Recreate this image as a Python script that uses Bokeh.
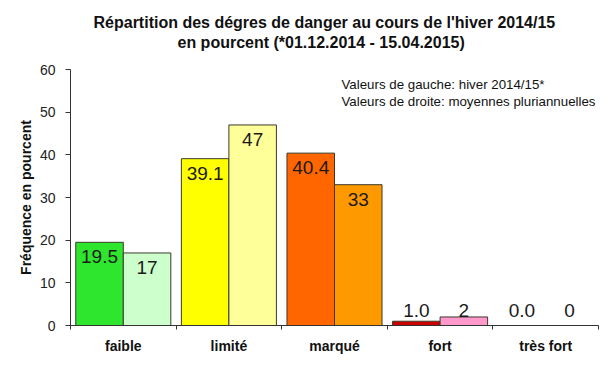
from bokeh.plotting import figure
from bokeh.models import Range1d, FixedTicker, Label, ColumnDataSource, Title
from bokeh.embed import file_html
from bokeh.resources import INLINE
from bokeh.core.properties import value

categories = ["faible", "limité", "marqué", "fort", "très fort"]
hiver = [19.5, 39.1, 40.4, 1.0, 0.0]
moyenne = [17, 47, 33, 2, 0]
hiver_labels = ["19.5", "39.1", "40.4", "1.0", "0.0"]
moyenne_labels = ["17", "47", "33", "2", "0"]
hiver_colors = ["#2ee62e", "#ffff00", "#ff6600", "#cc0000", "#b0b0b0"]
moyenne_colors = ["#ccffcc", "#ffff99", "#ff9900", "#ff99cc", "#000000"]
hiver_lines = ["#3a3a2a", "#3a3a2a", "#3a3a2a", "#3a3a2a", "#9a9a9a"]
moyenne_lines = ["#3a3a2a", "#3a3a2a", "#3a3a2a", "#3a3a2a", "#000000"]
y_ticks = [0, 10, 20, 30, 40, 50, 60]
title_lines = ["Répartition  des dégres de danger au cours de l'hiver 2014/15",
               "en pourcent (*01.12.2014 - 15.04.2015)"]
notes = ["Valeurs de gauche: hiver 2014/15*", "Valeurs de droite: moyennes pluriannuelles"]

FONT = "Liberation Sans"

p = figure(frame_width=528, frame_height=256, output_backend="svg", toolbar_location=None,
           x_range=Range1d(0, len(categories)), y_range=Range1d(0, 60),
           min_border_left=70, min_border_right=18, min_border_top=69, min_border_bottom=44)
p.outline_line_color = None
p.xgrid.grid_line_color = None
p.ygrid.grid_line_color = None
p.background_fill_color = "white"
p.border_fill_color = "white"

idx = list(range(len(categories)))
bw = 0.45
src_h = ColumnDataSource(dict(x=[i + 0.5 - bw / 2 for i in idx], top=hiver, fill=hiver_colors,
                              line=hiver_lines, lab=hiver_labels))
src_m = ColumnDataSource(dict(x=[i + 0.5 + bw / 2 for i in idx], top=moyenne, fill=moyenne_colors,
                              line=moyenne_lines, lab=moyenne_labels))
for src in (src_h, src_m):
    p.vbar(x="x", top="top", bottom=0, width=bw, fill_color="fill", line_color="line",
           line_width=1, source=src)

# value labels
for src in (src_h, src_m):
    xs, tops, labs = src.data["x"], src.data["top"], src.data["lab"]
    big = [i for i in idx if tops[i] >= 5]
    small = [i for i in idx if tops[i] < 5]
    p.text(x=[xs[i] for i in big], y=[tops[i] for i in big], text=[labs[i] for i in big],
           text_align="center", text_baseline="top", y_offset=8,
           text_font=value(FONT), text_font_size="19px", text_color="#1a1a1a")
    p.text(x=[xs[i] for i in small], y=[0 for i in small], text=[labs[i] for i in small],
           text_align="center", text_baseline="bottom", y_offset=-9,
           text_font=value(FONT), text_font_size="19px", text_color="#1a1a1a")

# x axis
xa = p.xaxis[0]
xa.ticker = FixedTicker(ticks=[i + 0.5 for i in idx], minor_ticks=list(range(len(categories) + 1)))
xa.major_label_overrides = {i + 0.5: c for i, c in zip(idx, categories)}
xa.major_tick_line_color = None
xa.major_tick_out = 0
xa.major_tick_in = 0
xa.minor_tick_out = 4
xa.minor_tick_in = 0
xa.minor_tick_line_color = "#333333"
xa.axis_line_color = "#333333"
xa.major_label_text_font = FONT
xa.major_label_text_font_style = "bold"
xa.major_label_text_font_size = "14px"
xa.major_label_text_color = "#111111"
xa.major_label_standoff = 8

# y axis
ya = p.yaxis[0]
ya.ticker = FixedTicker(ticks=y_ticks)
ya.minor_tick_line_color = None
ya.major_tick_out = 5
ya.major_tick_in = 0
ya.major_tick_line_color = "#333333"
ya.axis_line_color = "#333333"
ya.major_label_text_font = FONT
ya.major_label_text_font_size = "14px"
ya.major_label_text_color = "#222222"
ya.major_label_standoff = 10
ya.axis_label = "Fréquence en pourcent"
ya.axis_label_text_font = FONT
ya.axis_label_text_font_style = "bold"
ya.axis_label_text_font_size = "14px"
ya.axis_label_text_color = "#111111"
ya.axis_label_standoff = 3

# invisible spacer nearest the plot, then the two title lines
p.add_layout(Title(text=" ", text_font_size="12px", standoff=2, text_color="white"), "above")
for t, off in ((title_lines[1], 107), (title_lines[0], 23)):
    p.add_layout(Title(text=t, align="left", offset=off, text_font=FONT, text_font_style="bold",
                       text_font_size="16px", text_color="#111111", standoff=1), "above")

# legend notes
p.add_layout(Label(x=2.566, y=56.5, text=notes[0],
                   text_align="left", text_baseline="middle", text_font=FONT,
                   text_font_size="13.3px", text_color="#111111"))
p.add_layout(Label(x=2.566, y=52.5, text=notes[1],
                   text_align="left", text_baseline="middle", text_font=FONT,
                   text_font_size="13.3px", text_color="#111111"))

open("out.html", "w").write(file_html(p, INLINE))
